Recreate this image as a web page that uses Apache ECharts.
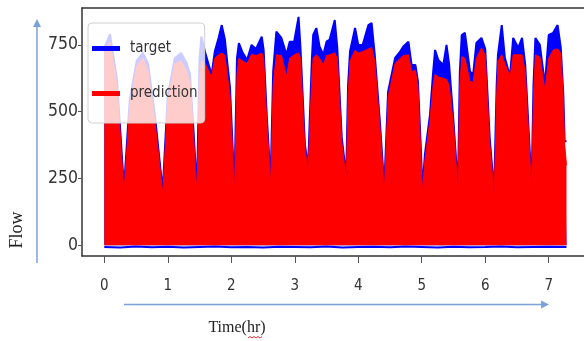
<!DOCTYPE html>
<html>
<head>
<meta charset="utf-8">
<script src="https://cdn.jsdelivr.net/npm/echarts@6/dist/echarts.min.js"></script>
<style>
  html, body { margin: 0; padding: 0; background: #fff; }
  #chart { width: 584px; height: 341px; }
</style>
</head>
<body>
<div id="chart"></div>
<script>
// envelope of the dense flow signal (hours on x)
const hours = [
  0.00, 0.09, 0.20, 0.31,
  0.40, 0.51, 0.61, 0.69, 0.80, 0.92,
  1.00, 1.11, 1.21, 1.30, 1.35, 1.40, 1.46,
  1.50, 1.53, 1.59, 1.69, 1.74, 1.80, 1.85, 1.90, 1.93, 1.98, 2.05,
  2.09, 2.12, 2.18, 2.25, 2.32, 2.39, 2.48, 2.51, 2.56, 2.62,
  2.66, 2.71, 2.79, 2.87, 2.92, 2.99, 3.06, 3.09, 3.16, 3.21,
  3.27, 3.29, 3.34, 3.39, 3.45, 3.50, 3.55, 3.63, 3.67, 3.74, 3.81,
  3.84, 3.87, 3.95, 4.00, 4.07, 4.16, 4.21, 4.26, 4.34, 4.41,
  4.47, 4.58, 4.66, 4.71, 4.79, 4.84, 4.90, 4.94, 4.99, 5.01,
  5.05, 5.13, 5.18, 5.21, 5.26, 5.34, 5.39, 5.43, 5.50, 5.57,
  5.60, 5.63, 5.68, 5.76, 5.81, 5.86, 5.94, 6.00, 6.07, 6.14,
  6.18, 6.20, 6.26, 6.31, 6.39, 6.44, 6.52, 6.58, 6.63, 6.69, 6.73,
  6.76, 6.79, 6.86, 6.94, 7.00, 7.07, 7.14, 7.19, 7.23, 7.25, 7.28
];

const target = [
  740, 790, 620, 212,
  540, 690, 720, 680, 480, 205,
  560, 700, 720, 680, 640, 450, 205,
  700, 781, 720, 638, 725, 776, 824, 770, 700, 590, 210,
  700, 757, 720, 694, 750, 735, 781, 730, 480, 240,
  650, 800, 776, 713, 762, 762, 855, 739, 377, 291,
  700, 787, 813, 744, 713, 762, 770, 843, 739, 403, 259,
  600, 725, 813, 750, 750, 824, 832, 713, 464, 216,
  575, 701, 725, 744, 762, 675, 675, 613, 340, 209,
  340, 489, 650, 731, 694, 675, 750, 680, 464, 216,
  650, 787, 795, 650, 640, 757, 776, 735, 403, 198,
  600, 713, 824, 701, 632, 776, 739, 776, 675, 403, 216,
  600, 776, 750, 601, 787, 795, 824, 739, 563, 389, 389
];

const prediction = [
  720, 760, 600, 200,
  520, 670, 700, 650, 460, 195,
  540, 680, 690, 650, 610, 430, 195,
  620, 690, 680, 630, 700, 713, 720, 710, 650, 560, 198,
  640, 700, 690, 680, 715, 710, 720, 700, 460, 228,
  600, 713, 710, 632, 700, 713, 720, 700, 360, 280,
  640, 700, 713, 700, 675, 710, 713, 720, 700, 385, 248,
  560, 690, 730, 720, 725, 735, 740, 690, 445, 205,
  555, 680, 700, 710, 713, 650, 655, 590, 320, 198,
  320, 470, 600, 640, 630, 625, 620, 600, 450, 205,
  600, 706, 700, 613, 610, 700, 739, 710, 385, 190,
  560, 690, 713, 680, 632, 713, 713, 713, 650, 385, 205,
  560, 713, 705, 582, 700, 731, 735, 720, 550, 380, 300
];

// troughs of the target signal along the bottom
const lowHours = [
  0.00, 0.25, 0.50, 0.75, 1.00, 1.25, 1.50, 1.75, 2.00, 2.25,
  2.50, 2.75, 3.00, 3.25, 3.50, 3.75, 4.00, 4.25, 4.50, 4.75,
  5.00, 5.25, 5.50, 5.75, 6.00, 6.25, 6.50, 6.75, 7.00, 7.28
];
const targetLow = [
  -6, -8, -4, -7, -5, -8, -6, -4, -7, -6,
  -8, -5, -6, -7, -4, -8, -6, -5, -7, -4,
  -6, -8, -5, -7, -6, -4, -7, -6, -5, -6
];

const xTicks = [0, 1, 2, 3, 4, 5, 6, 7];
const yTicks = [0, 250, 500, 750];

const narrow = '"Liberation Sans Narrow", "DejaVu Sans Condensed", sans-serif';
const serif = '"Liberation Serif", "DejaVu Serif", serif';
const arrowBlue = '#7aa2d8';
const frame = { color: '#333', width: 1.5 };

const chart = echarts.init(document.getElementById('chart'));

const option = {
  animation: false,
  backgroundColor: '#fff',
  grid: {
    left: 82, top: 8, width: 508, height: 248,
    outerBoundsMode: 'none', show: false
  },
  legend: {
    data: ['target', 'prediction'],
    orient: 'vertical',
    left: 88, top: 23,
    icon: 'rect',
    itemWidth: 28, itemHeight: 5, itemGap: 30,
    padding: [18, 7, 22, 4],
    backgroundColor: 'rgba(255,255,255,0.8)',
    borderColor: '#d0d0d0', borderWidth: 1, borderRadius: 4,
    textStyle: { fontSize: 15, fontFamily: narrow, color: '#333', padding: [0, 0, 0, 5] }
  },
  xAxis: [
    {
      type: 'value', min: -0.351, max: 7.65,
      axisLine: { show: true, onZero: false, lineStyle: frame },
      axisTick: { show: true, length: 7, customValues: xTicks, lineStyle: { color: '#555' } },
      axisLabel: { customValues: xTicks, margin: 23, fontSize: 15, fontFamily: narrow, color: '#333' },
      splitLine: { show: false }
    },
    {
      // top edge of the frame
      type: 'value', position: 'top', min: -0.351, max: 7.65,
      axisLine: { show: true, onZero: false, lineStyle: frame },
      axisTick: { show: false }, axisLabel: { show: false }, splitLine: { show: false }
    }
  ],
  yAxis: {
    type: 'value', min: -40, max: 888,
    axisLine: { show: true, onZero: false, lineStyle: frame },
    axisTick: { show: true, length: 4, customValues: yTicks, lineStyle: { color: '#555' } },
    axisLabel: { customValues: yTicks, margin: 4, fontSize: 17.5, fontFamily: narrow, color: '#333' },
    splitLine: { show: false }
  },
  series: [
    {
      name: 'target', type: 'line', z: 2, showSymbol: false,
      data: hours.map((h, i) => [h, target[i]]),
      itemStyle: { color: '#0000ff' },
      lineStyle: { color: '#0000ff', width: 2 },
      areaStyle: { color: '#0000ff', opacity: 1 }
    },
    {
      name: 'target', type: 'line', z: 1, showSymbol: false,
      data: lowHours.map((h, i) => [h, targetLow[i]]),
      itemStyle: { color: '#0000ff' },
      lineStyle: { color: '#0000ff', width: 2 }
    },
    {
      name: 'prediction', type: 'line', z: 3, showSymbol: false,
      data: hours.map((h, i) => [h, prediction[i]]),
      itemStyle: { color: '#ff0000' },
      lineStyle: { color: '#ff0000', width: 1 },
      areaStyle: { color: '#ff0000', opacity: 1 }
    }
  ],
  graphic: [
    { type: 'line', shape: { x1: 37, y1: 263, x2: 37, y2: 26 },
      style: { stroke: arrowBlue, lineWidth: 1.5 } },
    { type: 'polygon', shape: { points: [[33, 27], [41, 27], [37, 19]] },
      style: { fill: arrowBlue } },
    { type: 'line', shape: { x1: 124, y1: 304.5, x2: 542, y2: 304.5 },
      style: { stroke: arrowBlue, lineWidth: 1.5 } },
    { type: 'polygon', shape: { points: [[541, 300.5], [541, 308.5], [549, 304.5]] },
      style: { fill: arrowBlue } },
    { type: 'text', x: 17, y: 230, rotation: Math.PI / 2,
      style: { text: 'Flow', font: '18px ' + serif, fill: '#222',
               textAlign: 'center', textVerticalAlign: 'middle' } },
    { type: 'text', x: 237, y: 328,
      style: { text: 'Time(hr)', font: '16px ' + serif, fill: '#222',
               textAlign: 'center', textVerticalAlign: 'middle' } },
    { type: 'polyline',
      shape: { points: [[248, 338], [250, 336.5], [252, 338], [254, 336.5], [256, 338], [258, 336.5], [260, 338], [262, 336.5]] },
      style: { stroke: '#e03030', lineWidth: 1, fill: null } }
  ]
};

chart.setOption(option);
</script>
</body>
</html>
